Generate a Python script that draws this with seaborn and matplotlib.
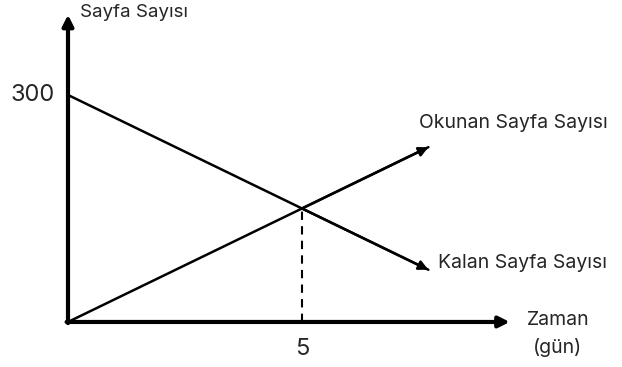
import matplotlib
matplotlib.use("Agg")
import matplotlib.pyplot as plt
import seaborn as sns
import pandas as pd

# Werte
gun = [0, 5, 7.7]
okunan = [0, 150, 231]
kalan = [300, 150, 69]
kesisim_gun = 5
kesisim_sayfa = 150
baslangic = 300

df = pd.DataFrame({'gun': gun, 'Okunan': okunan, 'Kalan': kalan})

sns.set_theme(style='white')
plt.rcParams['font.family'] = ['Inter', 'DejaVu Sans']

fig = plt.figure(figsize=(6.22, 3.67), dpi=100)
ax = fig.add_axes([0, 0, 1, 1])
ax.set_xlim(-1.453, 11.838)
ax.set_ylim(-59.5, 425.5)
ax.axis('off')

# Linien
sns.lineplot(data=df, x='gun', y='Okunan', color='black', linewidth=1.8, ax=ax)
sns.lineplot(data=df, x='gun', y='Kalan', color='black', linewidth=1.8, ax=ax)

# Pfeilspitzen am Linienende
pfeil = dict(arrowstyle='-|>', color='black', lw=1.8, mutation_scale=14, shrinkA=0, shrinkB=0)
ax.annotate('', xy=(gun[-1], okunan[-1]), xytext=(gun[-2], okunan[-2]), arrowprops=pfeil)
ax.annotate('', xy=(gun[-1], kalan[-1]), xytext=(gun[-2], kalan[-2]), arrowprops=pfeil)

# Achsen als Pfeile
achse = dict(arrowstyle='-|>', color='black', lw=3, mutation_scale=16, shrinkA=0, shrinkB=0)
ax.annotate('', xy=(0, 406), xytext=(0, -1.5), arrowprops=achse)
ax.annotate('', xy=(9.44, 0), xytext=(-0.03, 0), arrowprops=achse)

# gestrichelte Linie zum Schnittpunkt
ax.plot([kesisim_gun, kesisim_gun], [0, kesisim_sayfa], color='black', lw=1.5, ls=(0, (4, 3)))

# Beschriftungen
ax.text(0.25, 420, 'Sayfa Sayısı', fontsize=13.5, ha='left', va='top')
ax.text(-0.28, baslangic, '300', fontsize=17, ha='right', va='center')
ax.text(kesisim_gun, -36, '5', fontsize=17, ha='center', va='center')
ax.text(7.5, 263, 'Okunan Sayfa Sayısı', fontsize=14, ha='left', va='center')
ax.text(7.9, 78, 'Kalan Sayfa Sayısı', fontsize=14, ha='left', va='center')
ax.text(9.8, 3, 'Zaman', fontsize=14, ha='left', va='center')
ax.text(10.45, -34, '(gün)', fontsize=14, ha='center', va='center')

plt.savefig('out.png', dpi=100)
